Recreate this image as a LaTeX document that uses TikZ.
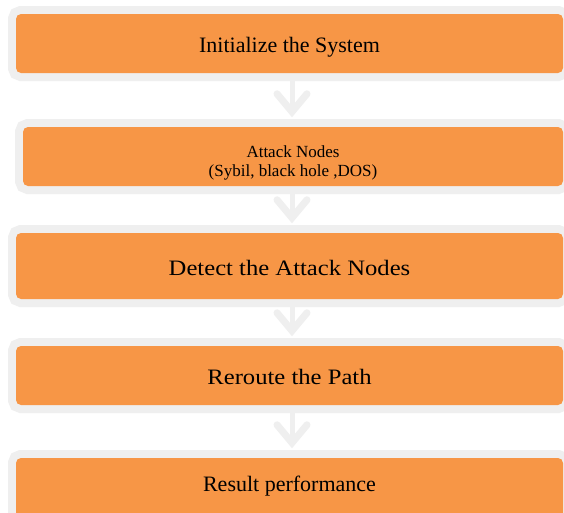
\documentclass[tikz,border=0pt]{standalone}
\usepackage{fontspec}
\setmainfont{Liberation Serif}
\newfontfamily\widefont[FakeStretch=1.12]{Liberation Serif}
\usetikzlibrary{calc}
\definecolor{boxorange}{HTML}{F79646}
\definecolor{framegrey}{HTML}{EFEFEF}
\definecolor{arrowgrey}{HTML}{EFEFEF}
\tikzset{
  stage/.style={rectangle, fill=boxorange, rounded corners=5pt, inner sep=0pt,
    preaction={draw=framegrey, line width=16pt},
    font=\fontsize{22}{24}\selectfont, text height=17pt, text depth=0pt},
  shaft/.style={draw=arrowgrey, line width=5pt},
  chev/.style={draw=arrowgrey, line width=7pt, line cap=round, line join=miter},
}
\begin{document}
\begin{tikzpicture}[x=1pt, y=-1pt]
\useasboundingbox (0,0) rectangle (564,512);
\fill[white] (0,0) rectangle (564,512);
\clip (0,0) rectangle (564,512);
\coordinate (ax) at (292,0);

\node[stage, minimum width=547pt, minimum height=59pt] (b1) at (289.5,43.5) {Initialize the System};
\node[stage, minimum width=540pt, minimum height=59pt, align=center,
      font=\fontsize{17}{19}\selectfont, text height=39pt, text depth=0pt] (b2) at (293,156.5)
      {Attack Nodes\\(Sybil, black hole ,DOS)};
\node[stage, minimum width=547pt, minimum height=66pt, font=\fontsize{22}{24}\widefont, text height=18pt] (b3) at (289.5,266) {Detect the Attack Nodes};
\node[stage, minimum width=547pt, minimum height=59pt, font=\fontsize{22}{24}\widefont, text height=18pt] (b4) at (289.5,375.5) {Reroute the Path};
\node[stage, minimum width=547pt, minimum height=62pt, text height=4pt] (b5) at (289.5,489) {Result performance};

\foreach \a/\b in {b1/b2, b2/b3, b3/b4, b4/b5}{
  \coordinate (v) at ($(\b.north -| ax)+(0,-15)$);
  \draw[shaft] ($(\a.south -| ax)+(0,8)$) -- (v);
  \draw[chev] ($(v)+(-15,-18)$) -- (v) -- ($(v)+(15,-18)$);
}
\end{tikzpicture}
\end{document}
